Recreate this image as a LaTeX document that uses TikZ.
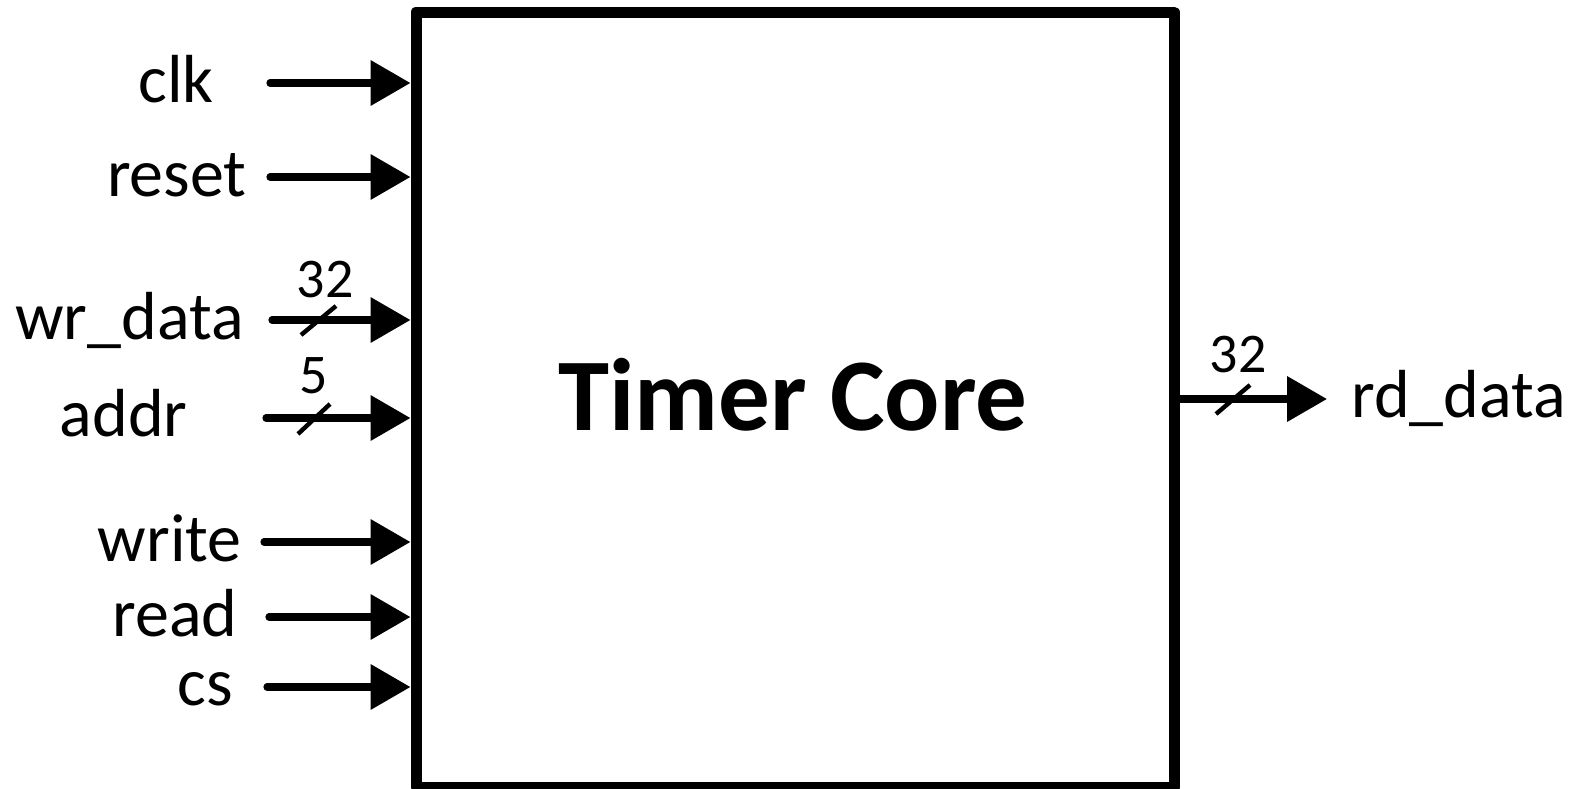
\documentclass[tikz,border=0pt]{standalone}
\usepackage{fontspec}
\setmainfont{Carlito}
\usetikzlibrary{arrows.meta}

\begin{document}
\begin{tikzpicture}[x=0.5pt,y=-0.5pt,
  corebox/.style={draw, line width=5.5pt, line join=round, minimum width=379pt, minimum height=387.5pt, inner sep=0pt},
  sig/.style={line width=3.6pt, line cap=round, -{Triangle[length=20pt,width=22pt]}},
  busslash/.style={line width=2.2pt},
  sigtext/.style={inner sep=0pt, font=\fontsize{34}{40}\selectfont},
  bustext/.style={inner sep=0pt, anchor=base, font=\fontsize{28}{34}\selectfont},
  titletext/.style={inner sep=0pt, anchor=base, font=\fontsize{51.5}{60}\selectfont\bfseries}]

\useasboundingbox (0,0) rectangle (1578,788);

% the core block
\node[corebox] (core) at (795,399.5) {};
\node[titletext] (title) at (793,430) {Timer Core};

% input ports: start point, label
\coordinate (sclk)   at (270,83);
\coordinate (sreset) at (270,177);
\coordinate (swr)    at (272,320);
\coordinate (saddr)  at (266,418);
\coordinate (swrite) at (264,542);
\coordinate (sread)  at (269,617);
\coordinate (scs)    at (267,687);

\node[sigtext, anchor=base east] (lclk)   at (214,102) {clk};
\node[sigtext, anchor=base east] (lreset) at (247,196) {reset};
\node[sigtext, anchor=base east] (lwr)    at (244,339) {wr\_data};
\node[sigtext, anchor=base east] (laddr)  at (188,436) {addr};
\node[sigtext, anchor=base east] (lwrite) at (242,561) {write};
\node[sigtext, anchor=base east] (lread)  at (238,636) {read};
\node[sigtext, anchor=base east] (lcs)    at (233,705) {cs};

\draw[sig] (sclk)   -- (sclk -| core.west);
\draw[sig] (sreset) -- (sreset -| core.west);
\draw[sig] (swr)    -- (swr -| core.west);
\draw[sig] (saddr)  -- (saddr -| core.west);
\draw[sig] (swrite) -- (swrite -| core.west);
\draw[sig] (sread)  -- (sread -| core.west);
\draw[sig] (scs)    -- (scs -| core.west);

% bus widths on the inputs
\draw[busslash] (301,335) -- (336,306);
\node[bustext] (wwr) at (325,297) {32};
\draw[busslash] (298,434) -- (330,404);
\node[bustext] (waddr) at (314,393) {5};

% output port
\coordinate (rdend) at (1327,399);
\draw[sig] (core.east |- rdend) -- (rdend);
\draw[busslash] (1216,414) -- (1250,385);
\node[bustext] (wrd) at (1238,372) {32};
\node[sigtext, anchor=base west] (lrd) at (1351,417) {rd\_data};

\end{tikzpicture}
\end{document}
